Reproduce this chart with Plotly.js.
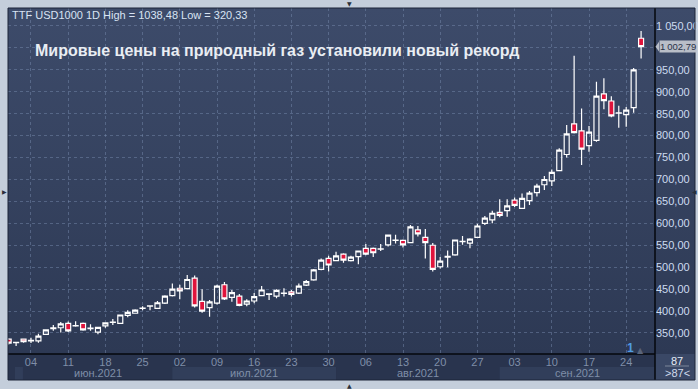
<!DOCTYPE html>
<html><head><meta charset="utf-8">
<script src="https://cdn.plot.ly/plotly-3.0.1.min.js"></script>
<style>
html,body{margin:0;padding:0;background:#c4cedb;}
#wrap{position:relative;width:698px;height:389px;overflow:hidden;background:#c4cedb;}
#bg{position:absolute;left:8px;top:8px;width:687px;height:346px;background:linear-gradient(#3d4b6a,#2d3954);}
#chart{position:absolute;left:0;top:0;width:698px;height:389px;}
</style></head>
<body><div id="wrap"><div id="bg"></div><div id="chart"></div></div>
<script>
var dates = [
 '2021-06-01','2021-06-02','2021-06-03','2021-06-04','2021-06-07','2021-06-08','2021-06-09','2021-06-10','2021-06-11',
 '2021-06-14','2021-06-15','2021-06-16','2021-06-17','2021-06-18','2021-06-21','2021-06-22','2021-06-23','2021-06-24','2021-06-25',
 '2021-06-28','2021-06-29','2021-06-30',
 '2021-07-01','2021-07-02','2021-07-05','2021-07-06','2021-07-07','2021-07-08','2021-07-09','2021-07-12','2021-07-13','2021-07-14',
 '2021-07-15','2021-07-16','2021-07-19','2021-07-20','2021-07-21','2021-07-22','2021-07-23','2021-07-26','2021-07-27','2021-07-28',
 '2021-07-29','2021-07-30',
 '2021-08-02','2021-08-03','2021-08-04','2021-08-05','2021-08-06','2021-08-09','2021-08-10','2021-08-11','2021-08-12','2021-08-13',
 '2021-08-16','2021-08-17','2021-08-18','2021-08-19','2021-08-20','2021-08-23','2021-08-24','2021-08-25','2021-08-26','2021-08-27',
 '2021-08-30','2021-08-31',
 '2021-09-01','2021-09-02','2021-09-03','2021-09-06','2021-09-07','2021-09-08','2021-09-09','2021-09-10','2021-09-13','2021-09-14',
 '2021-09-15','2021-09-16','2021-09-17','2021-09-20','2021-09-21','2021-09-22','2021-09-23','2021-09-24','2021-09-27','2021-09-28'
];
var open = [336,328,336,332,332,347,360,362,372,366,372,360,352,366,374,372,390,395,406,411,406,418,
 435,452,451,475,422,408,418,460,431,434,416,423,435,438,434,440,444,441,459,471,495,520,
 515,530,515,524,543,543,541,551,561,561,556,585,568,550,501,523,528,558,555,568,600,608,
 625,629,653,634,652,670,688,697,720,757,827,811,777,789,895,879,851,848,864,1022];
var high = [338,329,337,339,348,358,368,375,376,377,374,370,364,374,382,392,402,404,411,413,423,436,
 463,460,482,481,450,425,460,466,448,439,427,441,457,440,450,452,448,463,471,496,520,526,
 535,532,526,538,553,545,553,574,574,563,596,594,587,555,523,538,563,571,566,599,617,629,
 655,655,659,668,674,690,708,723,771,824,982,862,822,923,931,890,868,865,954,1038.48];
var low = [324,320.33,328,327,328,346,355,351,352,364,355,355,347,362,368,371,386,394,402,402,405,416,
 433,427,449,408,396,387,415,425,421,411,411,418,434,425,429,433,433,439,457,469,493,490,
 514,510,513,507,527,523,537,547,554,545,555,570,520,490,497,500,526,551,543,567,596,600,
 614,615,637,633,642,661,676,685,719,750,805,733,763,786,860,842,818,820,852,976];
var close = [327,328.5,330,333,343,357,362,371,355,367,357,361,363,373,375,391,397,402,407,412,419,434,
 450,446,472,412,400,421,457,428,442,413,423,433,448,439,447,441,438,457,467,494,516,505,
 526,516,523,537,530,533,542,573,562,551,592,576,556,495,514,525,562,559,564,594,612,623,
 618,640,641,657,669,685,700,716,767,804,807,769,808,890,880,845,852,858,950,1002.79];

var xTickVals = ['2021-06-04','2021-06-11','2021-06-18','2021-06-25','2021-07-02','2021-07-09','2021-07-16','2021-07-23','2021-07-30',
 '2021-08-06','2021-08-13','2021-08-20','2021-08-27','2021-09-03','2021-09-10','2021-09-17','2021-09-24'];
var xTickText = ['04','11','18','25','02','09','16','23','30','06','13','20','27','03','10','17','24'];
var yTickVals = [350,400,450,500,550,600,650,700,750,800,850,900,950,1000,1050];
var yTickText = ['350,00','400,00','450,00','500,00','550,00','600,00','650,00','700,00','750,00','800,00','850,00','900,00','950,00','','1 050,00'];
var monthLabels = ['июн.2021','июл.2021','авг.2021','сен.2021'];
var monthKeys = ['2021-06','2021-07','2021-08','2021-09'];
var titleText = 'Мировые цены на природный газ установили новый рекорд';
var barCountText = '87';

function fmt(v, sep){ var s=v.toFixed(2).replace('.',','); var p=s.split(','); if(sep){ p[0]=p[0].replace(/\B(?=(\d{3})+(?!\d))/g,sep); } return p.join(','); }

var FONT = 'Liberation Sans, Arial, sans-serif';
var xMax = 86.87, xMin = -0.09;
var PX = function(px){ return (px-8)/647; };
var PY = function(py){ return (354-py)/346; };

var monthStart = monthKeys.map(function(k){ return dates.findIndex(function(d){return d.indexOf(k)===0;}); });
var bandStart = [1.92, monthStart[1], monthStart[2], monthStart[3]];
var bandEnd = [monthStart[1], monthStart[2], monthStart[3], xMax];

var shapes = [];
shapes.push({type:'rect',xref:'paper',yref:'paper',x0:0,x1:1,y0:PY(380),y1:0,fillcolor:'#29344e',line:{width:0},layer:'below'});
shapes.push({type:'rect',xref:'x',yref:'paper',x0:0.85,x1:1.92,y0:PY(380),y1:PY(367),fillcolor:'#313e5a',line:{width:0},layer:'below'});
[1,3].forEach(function(m){
  shapes.push({type:'rect',xref:'x',yref:'paper',x0:bandStart[m],x1:bandEnd[m],y0:PY(380),y1:PY(367),fillcolor:'#313e5a',line:{width:0},layer:'below'});
});
shapes.push({type:'rect',xref:'paper',yref:'paper',x0:1,x1:PX(695),y0:PY(380),y1:0,fillcolor:'#3a4866',line:{width:0},layer:'below'});
shapes.push({type:'line',xref:'paper',yref:'paper',x0:PX(665),x1:PX(689),y0:PY(366),y1:PY(366),line:{color:'#7d879a',width:1}});
shapes.push({type:'line',xref:'paper',yref:'paper',x0:0,x1:1,y0:0,y1:0,line:{color:'#05070c',width:1.5}});
shapes.push({type:'line',xref:'paper',yref:'paper',x0:1,x1:1,y0:PY(380),y1:1,line:{color:'#05070c',width:1.5}});
shapes.push({type:'rect',xref:'paper',yref:'paper',x0:PX(8),x1:PX(695),y0:PY(380),y1:PY(8),line:{color:'#1c2438',width:1},fillcolor:'rgba(0,0,0,0)'});
var lastClose = close[close.length-1];
shapes.push({type:'path',xref:'paper',yref:'y',path:'M '+PX(655.5)+','+lastClose+' L '+PX(659)+','+(lastClose+11)+' L '+PX(659)+','+(lastClose-11)+' Z',fillcolor:'#b9bec8',line:{width:0}});

var ann = [];
ann.push({xref:'paper',yref:'paper',x:PX(10),y:PY(15),xanchor:'left',yanchor:'middle',showarrow:false,
  text:'TTF USD1000 1D High = '+fmt(Math.max.apply(null,high))+' Low = '+fmt(Math.min.apply(null,low)),
  font:{family:FONT,size:11,color:'#d8e3f3'}});
ann.push({xref:'paper',yref:'paper',x:PX(33),y:PY(50),xanchor:'left',yanchor:'middle',showarrow:false,
  text:'<b>'+titleText+'</b>',font:{family:FONT,size:16,color:'#e9edf3'}});
monthLabels.forEach(function(t,m){
  ann.push({xref:'x',yref:'paper',x:(bandStart[m]+bandEnd[m])/2,y:PY(373.5),xanchor:'center',yanchor:'middle',showarrow:false,
    text:t,font:{family:FONT,size:11,color:'#7f8ea8'}});
});
ann.push({xref:'paper',yref:'y',x:PX(658.5),y:lastClose,xanchor:'left',yanchor:'middle',showarrow:false,
  text:fmt(lastClose,'\u2009'),bgcolor:'#b9bec8',borderpad:0,font:{family:FONT,size:9.5,color:'#2a3348'}});
ann.push({xref:'paper',yref:'paper',x:PX(677),y:PY(361),xanchor:'center',yanchor:'middle',showarrow:false,
  text:barCountText,font:{family:FONT,size:11,color:'#e6ecf6'}});
ann.push({xref:'paper',yref:'paper',x:PX(677),y:PY(373),xanchor:'center',yanchor:'middle',showarrow:false,
  text:'&gt;'+barCountText+'&lt;',font:{family:FONT,size:11,color:'#d0dbec'}});
ann.push({xref:'paper',yref:'paper',x:PX(630),y:PY(348),xanchor:'center',yanchor:'middle',showarrow:false,
  text:'<b>1</b>',font:{family:FONT,size:12,color:'#4f9be0'}});
ann.push({xref:'paper',yref:'paper',x:PX(640),y:PY(350),xanchor:'center',yanchor:'middle',showarrow:false,
  text:'▲',font:{family:'DejaVu Sans',size:8,color:'#59647a'}});
ann.push({xref:'paper',yref:'paper',x:PX(349),y:PY(4),xanchor:'center',yanchor:'middle',showarrow:false,text:'▼',font:{family:'DejaVu Sans',size:6,color:'#2a2f3a'}});
ann.push({xref:'paper',yref:'paper',x:PX(349),y:PY(385),xanchor:'center',yanchor:'middle',showarrow:false,text:'▲',font:{family:'DejaVu Sans',size:6,color:'#2a2f3a'}});
ann.push({xref:'paper',yref:'paper',x:PX(4),y:PY(192),xanchor:'center',yanchor:'middle',showarrow:false,text:'▶',font:{family:'DejaVu Sans',size:6,color:'#2a2f3a'}});
ann.push({xref:'paper',yref:'paper',x:PX(694),y:PY(192),xanchor:'center',yanchor:'middle',showarrow:false,text:'◀',font:{family:'DejaVu Sans',size:6,color:'#2a2f3a'}});

var trace = {type:'candlestick',x:dates,open:open,high:high,low:low,close:close,
  increasing:{line:{color:'#ffffff',width:1.2},fillcolor:'rgba(0,0,0,0)'},
  decreasing:{line:{color:'#ffffff',width:1.2},fillcolor:'#e0143c'},
  whiskerwidth:0,hoverinfo:'skip',showlegend:false};

var layout = {width:698,height:389,margin:{l:8,r:43,t:8,b:35,pad:0},
  paper_bgcolor:'rgba(0,0,0,0)',plot_bgcolor:'rgba(0,0,0,0)',showlegend:false,
  boxgap:0.33,boxgroupgap:0,
  font:{family:FONT},
  xaxis:{type:'category',range:[xMin,xMax],tickmode:'array',tickvals:xTickVals,ticktext:xTickText,
    showgrid:true,gridcolor:'rgba(125,145,180,0.45)',griddash:'3px,3px',gridwidth:1,
    ticks:'',showline:false,zeroline:false,tickfont:{family:FONT,size:11,color:'#7f8ea8'},
    rangeslider:{visible:false},fixedrange:true},
  yaxis:{side:'right',range:[302.1,1091],tickmode:'array',tickvals:yTickVals,ticktext:yTickText,
    showgrid:true,gridcolor:'rgba(125,145,180,0.45)',griddash:'3px,3px',gridwidth:1,
    ticks:'',showline:false,zeroline:false,tickfont:{family:FONT,size:11,color:'#cddbf0'},fixedrange:true},
  shapes:shapes,annotations:ann};

Plotly.newPlot('chart',[trace],layout,{staticPlot:true,displayModeBar:false});
</script>
</body></html>
